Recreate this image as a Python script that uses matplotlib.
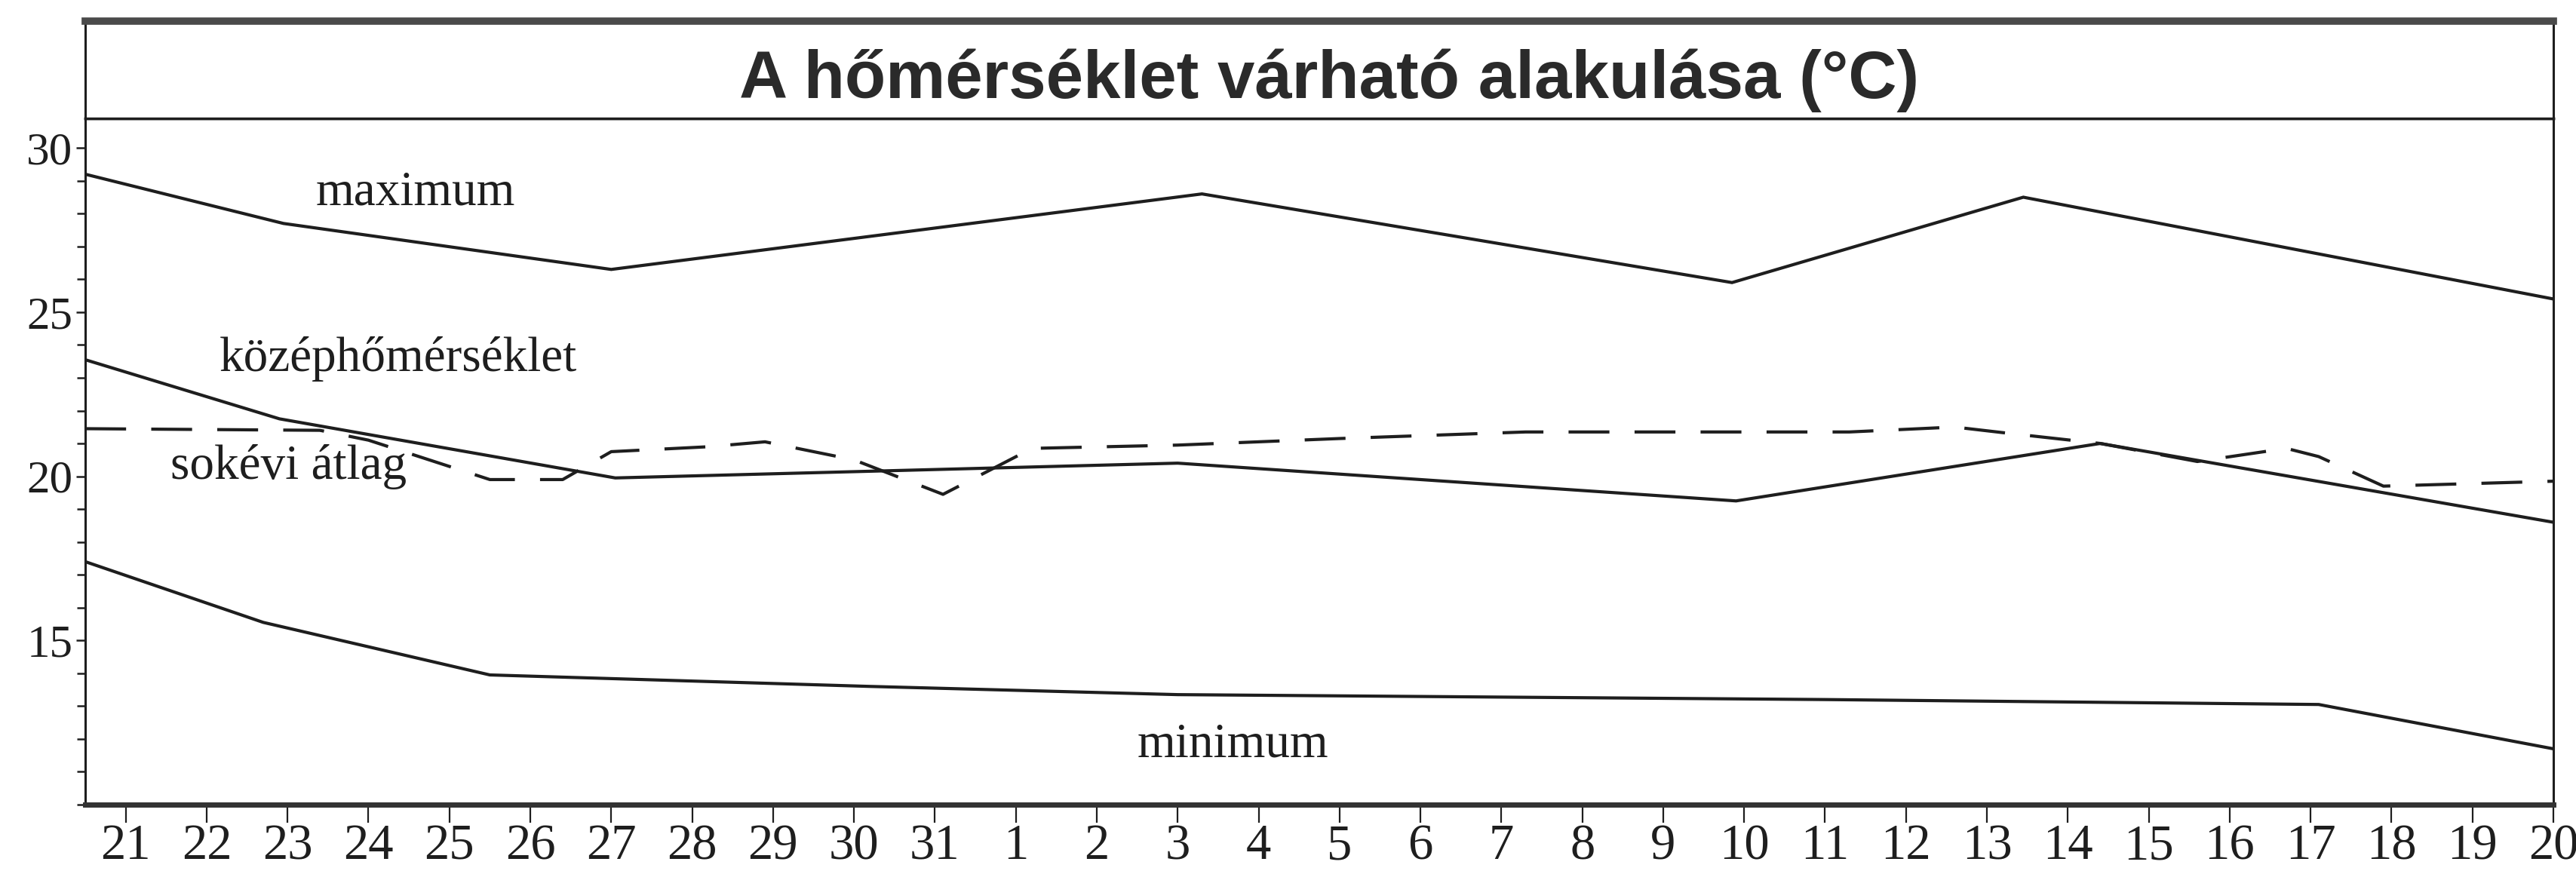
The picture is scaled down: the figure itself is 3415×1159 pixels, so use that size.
import matplotlib
matplotlib.use("Agg")
import matplotlib.pyplot as plt
from matplotlib.ticker import MultipleLocator

# ---------------- data ----------------
days = ["21", "22", "23", "24", "25", "26", "27", "28", "29", "30", "31",
        "1", "2", "3", "4", "5", "6", "7", "8", "9", "10",
        "11", "12", "13", "14", "15", "16", "17", "18", "19", "20"]

# x = position along the day axis (0 = "21", 30 = "20"), y = degrees C
max_x = [-0.5, 1.95, 6.0, 13.3, 19.85, 23.45, 30.0]
max_y = [29.2, 27.7, 26.3, 28.6, 25.9, 28.5, 25.4]

mid_x = [-0.5, 1.9, 6.05, 13.0, 19.9, 24.4, 30.0]
mid_y = [23.55, 21.75, 19.95, 20.4, 19.25, 21.0, 18.6]

avg_x = [-0.5, 2.4, 3.0, 4.5, 5.4, 6.0, 7.2, 7.9, 9.0, 10.1, 11.2, 13.0,
         15.0, 17.3, 21.3, 22.6, 23.3, 24.4, 25.6, 26.7, 27.1, 27.9, 30.0]
avg_y = [21.45, 21.4, 21.1, 19.9, 19.9, 20.75, 20.9, 21.05, 20.5, 19.45, 20.85, 20.95,
         21.15, 21.35, 21.35, 21.5, 21.3, 21.0, 20.45, 20.85, 20.6, 19.7, 19.85]

min_x = [-0.5, 1.7, 4.5, 9.2, 13.0, 21.0, 27.1, 30.0]
min_y = [17.4, 15.55, 13.95, 13.6, 13.35, 13.2, 13.05, 11.7]

y_major = [15, 20, 25, 30]

title = "A hőmérséklet várható alakulása (°C)"
lbl_max = "maximum"
lbl_mid = "középhőmérséklet"
lbl_avg = "sokévi átlag"
lbl_min = "minimum"

# ---------------- figure ----------------
W, H = 3415, 1159
fig = plt.figure(figsize=(W / 100, H / 100), dpi=100)
fig.patch.set_facecolor("white")

serif = ["Liberation Serif", "DejaVu Serif"]
sans = ["Liberation Sans", "DejaVu Sans"]
ink = "#1e1e1e"

L, R = 113 / W, 3385 / W
B, T = 1 - 1067 / H, 1 - 157 / H
TT = 1 - 28 / H

ax = fig.add_axes([L, B, R - L, T - B])
tax = fig.add_axes([L, T, R - L, TT - T])

# title box
tax.set_xticks([])
tax.set_yticks([])
tax.set_xlim(0, 1)
tax.set_ylim(0, 1)
for s in ["left", "right"]:
    tax.spines[s].set_linewidth(2.2)
    tax.spines[s].set_color(ink)
tax.spines["top"].set_linewidth(7)
tax.spines["top"].set_color("#4a4a4a")
tax.spines["bottom"].set_linewidth(2.5)
tax.spines["bottom"].set_color(ink)
fig.text(1762 / W, 1 - 130 / H, title, ha="center", va="baseline",
         fontsize=64, fontweight="bold", family=sans, color="#2a2a2a")

# lines
lw = 3.0
ax.plot(max_x, max_y, color=ink, lw=lw, solid_joinstyle="miter")
ax.plot(mid_x, mid_y, color=ink, lw=lw, solid_joinstyle="miter")
ax.plot(min_x, min_y, color=ink, lw=lw, solid_joinstyle="miter")
ax.plot(avg_x, avg_y, color=ink, lw=lw, dashes=(13, 8))

ax.set_xlim(-0.5, 30)
ax.set_ylim(10, 30.9)

ax.set_xticks(range(len(days)))
ax.set_xticklabels(days, family=serif, fontsize=48, color=ink)
ax.set_yticks(y_major)
ax.set_yticklabels([str(v) for v in y_major], family=serif, fontsize=44, color=ink)
ax.yaxis.set_minor_locator(MultipleLocator(1))

ax.tick_params(axis="x", direction="out", length=17, width=1.6, pad=1, colors=ink)
ax.tick_params(axis="y", which="major", direction="out", length=9, width=1.8, pad=3, colors=ink)
ax.tick_params(axis="y", which="minor", direction="out", length=8, width=1.8, colors=ink)

for s in ["left", "right"]:
    ax.spines[s].set_linewidth(2.2)
    ax.spines[s].set_color(ink)
ax.spines["top"].set_linewidth(2.5)
ax.spines["top"].set_color(ink)
ax.spines["bottom"].set_linewidth(5)
ax.spines["bottom"].set_color("#333333")

# series labels
tkw = dict(family=serif, fontsize=47, color=ink, ha="left", va="baseline")
ax.text(2.35, 28.26, lbl_max, **tkw)
ax.text(1.16, 23.21, lbl_mid, **tkw)
ax.text(0.55, 19.93, lbl_avg, **tkw)
ax.text(12.5, 11.45, lbl_min, **tkw)

fig.savefig("out.png", dpi=100, facecolor="white")
